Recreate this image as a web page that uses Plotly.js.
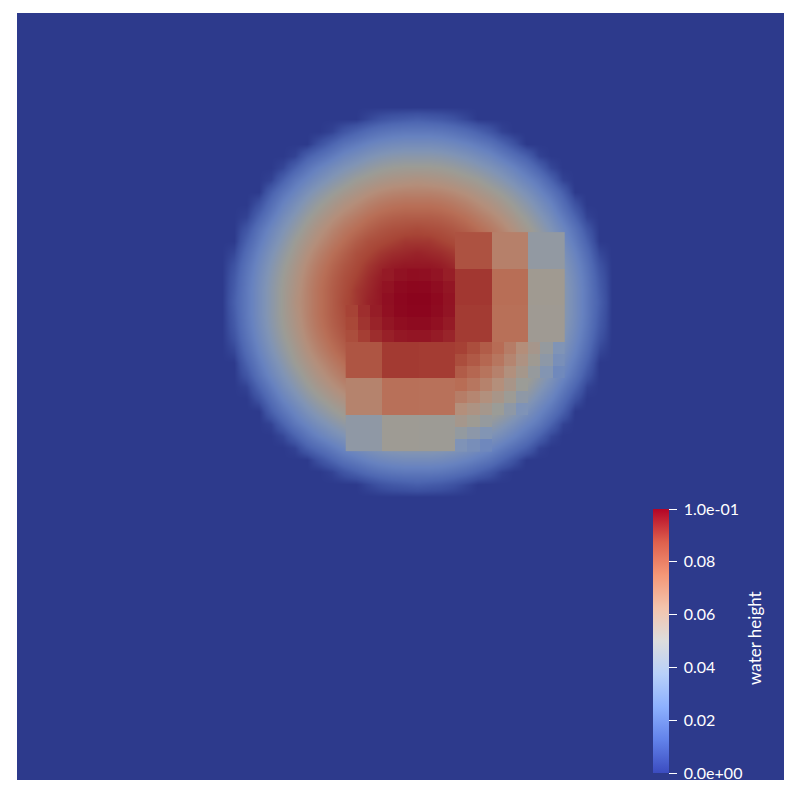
<!DOCTYPE html>
<html>
<head>
<meta charset="utf-8">
<script src="https://cdn.plot.ly/plotly-3.0.1.min.js"></script>
<style>html,body{margin:0;padding:0;background:#fff}#chart{width:798px;height:802px}</style>
</head>
<body>
<div id="chart"></div>
<script>
// Water height, in thousandths.
// Smooth dome, sampled every 12.17 px around the centre of the circle.
const domeHeights = [
[0,0,0,0,0,0,0,0,0,0,0,0,0,0,0,0,0,0,0,0,0,0,0,0,0,0,0,0,0,0,0,0,0],
[0,0,0,0,0,0,0,0,0,0,0,0,3,6,8,9,10,9,8,6,3,0,0,0,0,0,0,0,0,0,0,0,0],
[0,0,0,0,0,0,0,0,0,2,7,11,15,18,20,21,21,21,20,18,15,11,7,2,0,0,0,0,0,0,0,0,0],
[0,0,0,0,0,0,0,0,6,12,18,22,26,29,31,32,32,32,31,29,26,22,18,12,6,0,0,0,0,0,0,0,0],
[0,0,0,0,0,0,2,10,16,22,28,32,36,39,41,42,42,42,41,39,36,32,28,22,16,10,2,0,0,0,0,0,0],
[0,0,0,0,0,3,11,19,26,32,37,41,45,48,50,51,51,51,50,48,45,41,37,32,26,19,11,3,0,0,0,0,0],
[0,0,0,0,2,11,20,27,34,40,45,50,53,56,58,59,60,59,58,56,53,50,45,40,34,27,20,11,2,0,0,0,0],
[0,0,0,0,10,19,27,35,42,48,53,57,61,64,66,67,67,67,66,64,61,57,53,48,42,35,27,19,10,0,0,0,0],
[0,0,0,6,16,26,34,42,49,55,60,64,68,71,73,74,74,74,73,71,68,64,60,55,49,42,34,26,16,6,0,0,0],
[0,0,2,12,22,32,40,48,55,61,66,70,74,77,79,80,80,80,79,77,74,70,66,61,55,48,40,32,22,12,2,0,0],
[0,0,7,18,28,37,45,53,60,66,71,75,79,82,84,85,86,85,84,82,79,75,71,66,60,53,45,37,28,18,7,0,0],
[0,0,11,22,32,41,50,57,64,70,75,80,84,86,88,90,90,90,88,86,84,80,75,70,64,57,50,41,32,22,11,0,0],
[0,3,15,26,36,45,53,61,68,74,79,84,87,90,92,93,94,93,92,90,87,84,79,74,68,61,53,45,36,26,15,3,0],
[0,6,18,29,39,48,56,64,71,77,82,86,90,93,95,96,96,96,95,93,90,86,82,77,71,64,56,48,39,29,18,6,0],
[0,8,20,31,41,50,58,66,73,79,84,88,92,95,97,98,98,98,97,95,92,88,84,79,73,66,58,50,41,31,20,8,0],
[0,9,21,32,42,51,59,67,74,80,85,90,93,96,98,99,100,99,98,96,93,90,85,80,74,67,59,51,42,32,21,9,0],
[0,10,21,32,42,51,60,67,74,80,86,90,94,96,98,100,100,100,98,96,94,90,86,80,74,67,60,51,42,32,21,10,0],
[0,9,21,32,42,51,59,67,74,80,85,90,93,96,98,99,100,99,98,96,93,90,85,80,74,67,59,51,42,32,21,9,0],
[0,8,20,31,41,50,58,66,73,79,84,88,92,95,97,98,98,98,97,95,92,88,84,79,73,66,58,50,41,31,20,8,0],
[0,6,18,29,39,48,56,64,71,77,82,86,90,93,95,96,96,96,95,93,90,86,82,77,71,64,56,48,39,29,18,6,0],
[0,3,15,26,36,45,53,61,68,74,79,84,87,90,92,93,94,93,92,90,87,84,79,74,68,61,53,45,36,26,15,3,0],
[0,0,11,22,32,41,50,57,64,70,75,80,84,86,88,90,90,90,88,86,84,80,75,70,64,57,50,41,32,22,11,0,0],
[0,0,7,18,28,37,45,53,60,66,71,75,79,82,84,85,86,85,84,82,79,75,71,66,60,53,45,37,28,18,7,0,0],
[0,0,2,12,22,32,40,48,55,61,66,70,74,77,79,80,80,80,79,77,74,70,66,61,55,48,40,32,22,12,2,0,0],
[0,0,0,6,16,26,34,42,49,55,60,64,68,71,73,74,74,74,73,71,68,64,60,55,49,42,34,26,16,6,0,0,0],
[0,0,0,0,10,19,27,35,42,48,53,57,61,64,66,67,67,67,66,64,61,57,53,48,42,35,27,19,10,0,0,0,0],
[0,0,0,0,2,11,20,27,34,40,45,50,53,56,58,59,60,59,58,56,53,50,45,40,34,27,20,11,2,0,0,0,0],
[0,0,0,0,0,3,11,19,26,32,37,41,45,48,50,51,51,51,50,48,45,41,37,32,26,19,11,3,0,0,0,0,0],
[0,0,0,0,0,0,2,10,16,22,28,32,36,39,41,42,42,42,41,39,36,32,28,22,16,10,2,0,0,0,0,0,0],
[0,0,0,0,0,0,0,0,6,12,18,22,26,29,31,32,32,32,31,29,26,22,18,12,6,0,0,0,0,0,0,0,0],
[0,0,0,0,0,0,0,0,0,2,7,11,15,18,20,21,21,21,20,18,15,11,7,2,0,0,0,0,0,0,0,0,0],
[0,0,0,0,0,0,0,0,0,0,0,0,3,6,8,9,10,9,8,6,3,0,0,0,0,0,0,0,0,0,0,0,0],
[0,0,0,0,0,0,0,0,0,0,0,0,0,0,0,0,0,0,0,0,0,0,0,0,0,0,0,0,0,0,0,0,0]
];
const n = null;
// Medium mesh cells, grid columns 27..44, grid rows 21..35.
const mediumCells = [
[n,n,n,95.7,97.2,97.9,97.8,96.8,95.0,n,n,n,n,n,n,n,n,n],
[n,n,n,97.1,98.7,99.3,99.2,98.2,96.4,n,n,n,n,n,n,n,n,n],
[n,n,n,97.7,99.2,99.9,99.8,98.8,97.0,n,n,n,n,n,n,n,n,n],
[88.0,92.0,95.1,97.5,99.0,99.7,99.6,98.6,96.8,n,n,n,n,n,n,n,n,n],
[86.9,90.9,94.1,96.4,97.9,98.6,98.5,97.5,95.7,n,n,n,n,n,n,n,n,n],
[85.0,89.0,92.2,94.5,96.0,96.7,96.6,95.6,93.8,n,n,n,n,n,n,n,n,n],
[n,n,n,n,n,n,n,n,n,88.4,85.0,80.7,75.6,69.7,62.9,55.3,46.9,37.6],
[n,n,n,n,n,n,n,n,n,84.9,81.5,77.2,72.1,66.1,59.3,51.7,43.3,34.0],
[n,n,n,n,n,n,n,n,n,80.5,77.1,72.8,67.7,61.7,54.9,47.3,38.9,29.6],
[n,n,n,n,n,n,n,n,n,75.3,71.8,67.6,62.4,56.5,49.7,n,n,n],
[n,n,n,n,n,n,n,n,n,69.2,65.8,61.5,56.4,50.5,43.7,n,n,n],
[n,n,n,n,n,n,n,n,n,62.4,58.9,54.6,49.5,43.6,36.8,n,n,n],
[n,n,n,n,n,n,n,n,n,54.7,51.2,47.0,n,n,n,n,n,n],
[n,n,n,n,n,n,n,n,n,46.1,42.7,38.4,n,n,n,n,n,n],
[n,n,n,n,n,n,n,n,n,36.8,33.3,29.1,n,n,n,n,n,n]
];
// Coarse mesh cells, three grid cells wide, columns from 27, rows from 18.
const coarseCells = [
[n,n,n,83.6,68.3,45.5],
[n,n,n,90.3,75.0,52.2],
[n,n,n,89.6,74.3,51.5],
[82.8,89.8,89.3,n,n,n],
[67.1,74.1,73.7,n,n,n],
[44.0,51.0,50.6,n,n,n]
];
const fieldColors = [
[0,'rgb(45,58,140)'],[0.05,'rgb(60,80,160)'],[0.125,'rgb(78,103,178)'],[0.25,'rgb(103,130,192)'],[0.375,'rgb(128,148,182)'],
[0.5,'rgb(156,156,150)'],[0.625,'rgb(180,143,123)'],[0.75,'rgb(184,110,86)'],[0.875,'rgb(168,70,55)'],[1,'rgb(139,3,29)']
];
const barColors = [
[0,'rgb(59,76,192)'],[0.125,'rgb(98,130,234)'],[0.25,'rgb(141,176,254)'],[0.375,'rgb(184,208,249)'],
[0.5,'rgb(221,221,221)'],[0.625,'rgb(244,196,173)'],[0.75,'rgb(244,151,119)'],[0.875,'rgb(222,96,77)'],[1,'rgb(180,4,38)']
];
const tickValues = [0,0.02,0.04,0.06,0.08,0.1];
const tickLabels = ['\u00A00.0e+00','\u00A00.02','\u00A00.04','\u00A00.06','\u00A00.08','\u00A01.0e-01'];

const toHeight = rows => rows.map(r => r.map(v => v === null ? null : v / 1000));
const field = {type:'heatmap', zmin:0, zmax:0.1, colorscale:fieldColors, showscale:false, hoverinfo:'skip'};
const font = 'Lato, "Open Sans", sans-serif';

const data = [
  Object.assign({}, field, {z:toHeight(domeHeights), x0:16.83, dx:1, y0:7.71, dy:1, zsmooth:'best'}),
  Object.assign({}, field, {z:toHeight(mediumCells), x0:27.5, dx:1, y0:21.5, dy:1}),
  Object.assign({}, field, {z:toHeight(coarseCells), x0:28.5, dx:3, y0:19.5, dy:3}),
  {type:'scatter', mode:'markers', x:[-10], y:[-10], hoverinfo:'skip', showlegend:false,
   marker:{color:[0], cmin:0, cmax:0.1, colorscale:barColors, showscale:true,
     colorbar:{xref:'paper', yref:'paper', x:0.8292, xanchor:'left', xpad:0, y:0.0091, yanchor:'bottom', ypad:0,
       thicknessmode:'pixels', thickness:16, lenmode:'pixels', len:264,
       outlinewidth:0, borderwidth:0, bgcolor:'rgba(0,0,0,0)',
       tickmode:'array', tickvals:tickValues, ticktext:tickLabels,
       ticks:'outside', ticklen:8, tickwidth:1, tickcolor:'#fff',
       tickfont:{family:font, size:16, weight:400, color:'#fff'}}}}
];
const layout = {
  width:798, height:802, margin:{l:17, r:14, t:13, b:22, pad:0, autoexpand:false},
  paper_bgcolor:'#fff', plot_bgcolor:'rgb(45,58,140)', showlegend:false,
  xaxis:{visible:false, range:[0,63], fixedrange:true},
  yaxis:{visible:false, range:[63,0], fixedrange:true},
  annotations:[{xref:'paper', yref:'paper', x:0.9622, y:0.1852, xanchor:'center', yanchor:'middle', text:'water height', textangle:-90,
    showarrow:false, font:{family:font, size:17, weight:400, color:'#fff'}}]
};
Plotly.newPlot('chart', data, layout, {displayModeBar:false, staticPlot:true});
</script>
</body>
</html>
